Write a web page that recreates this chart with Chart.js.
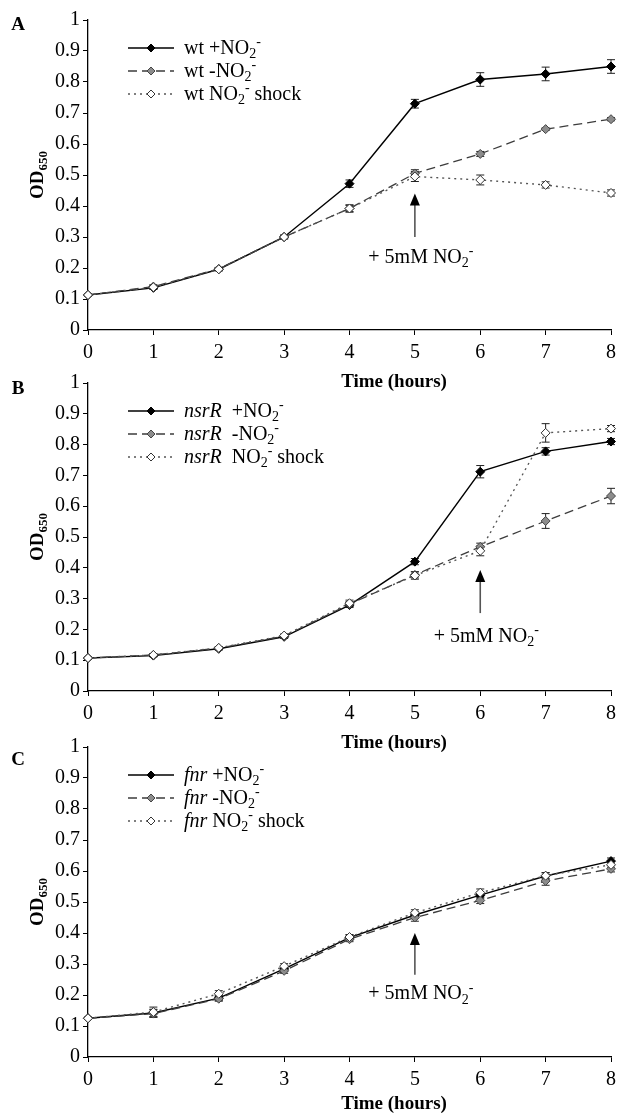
<!DOCTYPE html>
<html>
<head>
<meta charset="utf-8">
<script src="https://cdn.jsdelivr.net/npm/chart.js@4.4.0/dist/chart.umd.min.js"></script>
<style>
  body { margin: 0; background: #fff; width: 622px; height: 1116px; overflow: hidden; }
  .panel { position: absolute; left: 0; width: 622px; }
</style>
</head>
<body>
<div class="panel" id="boxA"><canvas id="chartA"></canvas></div>
<div class="panel" id="boxB"><canvas id="chartB"></canvas></div>
<div class="panel" id="boxC"><canvas id="chartC"></canvas></div>
<script>
// Time points (hours), shared by all panels
const times = [0, 1, 2, 3, 4, 5, 6, 7, 8];

// Panel A: wild type
const wtPlus     = [0.113, 0.136, 0.196, 0.300, 0.472, 0.730, 0.808, 0.826, 0.850];
const wtMinus    = [0.113, 0.140, 0.197, 0.300, 0.392, 0.505, 0.568, 0.648, 0.680];
const wtShock    = [0.113, 0.138, 0.196, 0.300, 0.392, 0.495, 0.484, 0.468, 0.442];
const wtPlusErr  = [0.003, 0.005, 0.005, 0.005, 0.012, 0.014, 0.022, 0.022, 0.022];
const wtMinusErr = [0.003, 0.006, 0.005, 0.006, 0.010, 0.012, 0.008, 0.004, 0.005];
const wtShockErr = [0.003, 0.006, 0.005, 0.006, 0.012, 0.016, 0.016, 0.010, 0.010];

// Panel B: nsrR mutant
const nsrPlus     = [0.107, 0.115, 0.137, 0.176, 0.279, 0.420, 0.712, 0.778, 0.810];
const nsrMinus    = [0.107, 0.117, 0.139, 0.178, 0.282, 0.377, 0.468, 0.552, 0.633];
const nsrShock    = [0.107, 0.117, 0.140, 0.180, 0.285, 0.375, 0.455, 0.838, 0.852];
const nsrPlusErr  = [0.003, 0.004, 0.004, 0.005, 0.008, 0.010, 0.020, 0.012, 0.010];
const nsrMinusErr = [0.003, 0.004, 0.004, 0.005, 0.008, 0.010, 0.012, 0.024, 0.025];
const nsrShockErr = [0.003, 0.004, 0.004, 0.005, 0.010, 0.012, 0.016, 0.030, 0.010];

// Panel C: fnr mutant
const fnrPlus     = [0.125, 0.142, 0.190, 0.284, 0.385, 0.458, 0.522, 0.584, 0.632];
const fnrMinus    = [0.125, 0.140, 0.188, 0.278, 0.380, 0.450, 0.505, 0.568, 0.607];
const fnrShock    = [0.125, 0.145, 0.204, 0.293, 0.387, 0.465, 0.530, 0.585, 0.620];
const fnrPlusErr  = [0.003, 0.012, 0.008, 0.008, 0.008, 0.010, 0.010, 0.010, 0.010];
const fnrMinusErr = [0.003, 0.012, 0.008, 0.008, 0.008, 0.012, 0.010, 0.014, 0.010];
const fnrShockErr = [0.003, 0.016, 0.010, 0.008, 0.008, 0.010, 0.012, 0.010, 0.010];

// Legend labels (rich text pieces: sub = subscript, sup = superscript, it = italic)
const wtLabels = [
  [{t: 'wt +NO'}, {t: '2', sub: 1}, {t: '-', sup: 1}],
  [{t: 'wt -NO'}, {t: '2', sub: 1}, {t: '-', sup: 1}],
  [{t: 'wt NO'}, {t: '2', sub: 1}, {t: '-', sup: 1}, {t: ' shock'}]
];
const nsrLabels = [
  [{t: 'nsrR', it: 1}, {t: '  +NO'}, {t: '2', sub: 1}, {t: '-', sup: 1}],
  [{t: 'nsrR', it: 1}, {t: '  -NO'}, {t: '2', sub: 1}, {t: '-', sup: 1}],
  [{t: 'nsrR', it: 1}, {t: '  NO'}, {t: '2', sub: 1}, {t: '-', sup: 1}, {t: ' shock'}]
];
const fnrLabels = [
  [{t: 'fnr', it: 1}, {t: ' +NO'}, {t: '2', sub: 1}, {t: '-', sup: 1}],
  [{t: 'fnr', it: 1}, {t: ' -NO'}, {t: '2', sub: 1}, {t: '-', sup: 1}],
  [{t: 'fnr', it: 1}, {t: ' NO'}, {t: '2', sub: 1}, {t: '-', sup: 1}, {t: ' shock'}]
];
const noteLabel = [{t: '+ 5mM NO'}, {t: '2', sub: 1}, {t: '-', sup: 1}];
const yTitle = [{t: 'OD', b: 1}, {t: '650', b: 1, sub: 1}];
const xTitle = 'Time (hours)';

const FONT = '"Liberation Serif", "Times New Roman", serif';

// Line styles for +NO2, -NO2, shock
const styles = [
  {line: '#000', dash: [], width: 1.4, fill: '#000', stroke: '#000'},
  {line: '#3c3c3c', dash: [9, 5], width: 1.3, fill: '#8c8c8c', stroke: '#444'},
  {line: '#555', dash: [2, 4], width: 1.4, fill: '#fff', stroke: '#333'}
];

// Draw text pieces one after another, returns end x
function drawRich(ctx, parts, x, y, size, measureOnly) {
  parts.forEach(p => {
    const small = p.sub || p.sup;
    const fs = small ? Math.round(size * 0.68) : size;
    ctx.font = (p.it ? 'italic ' : '') + (p.b ? 'bold ' : '') + fs + 'px ' + FONT;
    const dy = p.sub ? size * 0.22 : p.sup ? -size * 0.38 : 0;
    if (!measureOnly) ctx.fillText(p.t, x, y + dy);
    x += ctx.measureText(p.t).width;
  });
  return x;
}

function diamond(ctx, x, y, r, fill, stroke) {
  ctx.beginPath();
  ctx.moveTo(x, y - r); ctx.lineTo(x + r, y); ctx.lineTo(x, y + r); ctx.lineTo(x - r, y);
  ctx.closePath();
  ctx.fillStyle = fill; ctx.fill();
  ctx.strokeStyle = stroke; ctx.lineWidth = 1; ctx.stroke();
}

// Error bars, drawn under the lines and markers
const errorBars = {
  id: 'errorBars',
  beforeDatasetsDraw(chart) {
    const ctx = chart.ctx, ys = chart.scales.y;
    ctx.save();
    ctx.strokeStyle = '#222';
    ctx.lineWidth = 1;
    chart.data.datasets.forEach((ds, di) => {
      chart.getDatasetMeta(di).data.forEach((pt, i) => {
        const e = ds.err[i];
        if (!e) return;
        const v = ds.data[i].y;
        const top = ys.getPixelForValue(v + e), bot = ys.getPixelForValue(v - e);
        ctx.beginPath();
        ctx.moveTo(pt.x, top); ctx.lineTo(pt.x, bot);
        ctx.moveTo(pt.x - 4, top); ctx.lineTo(pt.x + 4, top);
        ctx.moveTo(pt.x - 4, bot); ctx.lineTo(pt.x + 4, bot);
        ctx.stroke();
      });
    });
    ctx.restore();
  }
};

// Panel letter, axis titles, legend and the arrow note
const extras = {
  id: 'extras',
  afterDraw(chart) {
    const ctx = chart.ctx, p = chart.options.panel;
    const area = chart.chartArea, xs = chart.scales.x, ys = chart.scales.y;
    ctx.save();
    ctx.fillStyle = '#000';
    ctx.textBaseline = 'alphabetic';

    // panel letter
    ctx.font = 'bold 19px ' + FONT;
    ctx.textAlign = 'center';
    ctx.fillText(p.letter, 18, area.top + p.letterDy + 7);

    // x title
    ctx.font = 'bold 19px ' + FONT;
    ctx.fillText(xTitle, 394, area.bottom + p.titleDy + 6);
    ctx.textAlign = 'left';

    // y title, rotated
    ctx.save();
    ctx.translate(43, (area.top + area.bottom) / 2);
    ctx.rotate(-Math.PI / 2);
    const yw = drawRich(ctx, yTitle, 0, 0, 19, true);
    drawRich(ctx, yTitle, -yw / 2, 0, 19);
    ctx.restore();

    // legend
    p.labels.forEach((parts, i) => {
      const st = styles[i];
      const ry = area.top + 28 + i * 23;
      ctx.save();
      ctx.strokeStyle = st.line;
      ctx.lineWidth = st.width;
      ctx.setLineDash(st.dash);
      ctx.beginPath();
      ctx.moveTo(128, ry); ctx.lineTo(174, ry);
      ctx.stroke();
      ctx.restore();
      diamond(ctx, 151, ry, 4, st.fill, st.stroke);
      ctx.fillStyle = '#000';
      drawRich(ctx, parts, 184, ry + 6, 20);
    });

    // arrow marking the nitrite addition
    const ax = xs.getPixelForValue(p.arrowX);
    const tip = ys.getPixelForValue(p.arrowTip), tail = ys.getPixelForValue(p.arrowTail);
    ctx.strokeStyle = '#555';
    ctx.lineWidth = 1.6;
    ctx.beginPath();
    ctx.moveTo(ax, tail); ctx.lineTo(ax, tip + 10);
    ctx.stroke();
    ctx.fillStyle = '#000';
    ctx.beginPath();
    ctx.moveTo(ax, tip); ctx.lineTo(ax - 5, tip + 12); ctx.lineTo(ax + 5, tip + 12);
    ctx.closePath();
    ctx.fill();
    const nw = drawRich(ctx, noteLabel, 0, 0, 20, true);
    drawRich(ctx, noteLabel, ax + 6 - nw / 2, ys.getPixelForValue(p.noteY) + 6, 20);
    ctx.restore();
  }
};

const panels = [
  {id: 'chartA', box: 'boxA', letter: 'A', top: 0, height: 392, plotTop: 20, plotBottom: 330,
   letterDy: 3, titleDy: 51, labels: wtLabels,
   series: [wtPlus, wtMinus, wtShock], errs: [wtPlusErr, wtMinusErr, wtShockErr],
   arrowX: 5, arrowTip: 0.44, arrowTail: 0.30, noteY: 0.236},
  {id: 'chartB', box: 'boxB', letter: 'B', top: 365, height: 392, plotTop: 383, plotBottom: 691,
   letterDy: 4, titleDy: 51, labels: nsrLabels,
   series: [nsrPlus, nsrMinus, nsrShock], errs: [nsrPlusErr, nsrMinusErr, nsrShockErr],
   arrowX: 6, arrowTip: 0.393, arrowTail: 0.253, noteY: 0.18},
  {id: 'chartC', box: 'boxC', letter: 'C', top: 728, height: 388, plotTop: 747, plotBottom: 1057,
   letterDy: 11, titleDy: 46, labels: fnrLabels,
   series: [fnrPlus, fnrMinus, fnrShock], errs: [fnrPlusErr, fnrMinusErr, fnrShockErr],
   arrowX: 5, arrowTip: 0.40, arrowTail: 0.265, noteY: 0.206}
];

const X_AXIS_H = 40;

// Build one panel chart
function createPanel(p) {
  const box = document.getElementById(p.box);
  box.style.top = p.top + 'px';
  box.style.height = p.height + 'px';

  const datasets = p.series.map((vals, i) => ({
    label: i,
    data: times.map((t, j) => ({x: t, y: vals[j]})),
    err: p.errs[i],
    borderColor: styles[i].line,
    borderWidth: styles[i].width,
    borderDash: styles[i].dash,
    pointStyle: 'rectRot',
    pointRadius: 4.5,
    pointBackgroundColor: styles[i].fill,
    pointBorderColor: styles[i].stroke,
    pointBorderWidth: 1,
    tension: 0,
    clip: false,
    order: 2 - i
  }));

  return new Chart(document.getElementById(p.id), {
    type: 'line',
    data: {datasets},
    options: {
      panel: p,
      responsive: true,
      maintainAspectRatio: false,
      animation: false,
      layout: {
        padding: {
          top: p.plotTop - p.top,
          bottom: p.top + p.height - p.plotBottom - X_AXIS_H,
          left: 0,
          right: 10
        }
      },
      plugins: {legend: {display: false}, tooltip: {enabled: false}},
      scales: {
        x: {
          type: 'linear', min: 0, max: 8,
          ticks: {stepSize: 1, color: '#000', font: {family: FONT, size: 20}, padding: 6},
          grid: {drawOnChartArea: false, drawTicks: true, tickLength: 5, tickColor: '#000'},
          border: {color: '#000', width: 1.3},
          afterFit: s => { s.height = X_AXIS_H; }
        },
        y: {
          min: 0, max: 1,
          ticks: {stepSize: 0.1, color: '#000', font: {family: FONT, size: 20}, padding: 3,
                  callback: v => String(Math.round(v * 10) / 10)},
          grid: {drawOnChartArea: false, drawTicks: true, tickLength: 5, tickColor: '#000'},
          border: {color: '#000', width: 1.3},
          afterFit: s => { s.width = 88; }
        }
      }
    },
    plugins: [errorBars, extras]
  });
}

panels.forEach(createPanel);
</script>
</body>
</html>
